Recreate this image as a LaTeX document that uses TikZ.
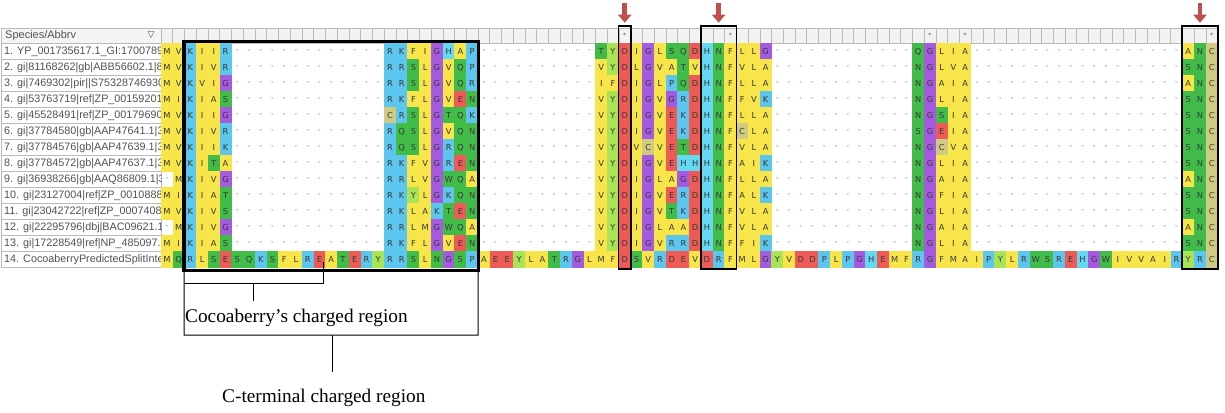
\documentclass[tikz,border=0pt]{standalone}
\usepackage{fontspec}
\setmainfont{Liberation Serif}
\newfontfamily\labfont{Liberation Sans}
\newfontfamily\resfont{DejaVu Sans}
\usetikzlibrary{arrows.meta}

% residue colours
\definecolor{hyd}{HTML}{F7E54A}
\definecolor{pos}{HTML}{5CC6EE}
\definecolor{his}{HTML}{64D9F0}
\definecolor{gly}{HTML}{A55BE0}
\definecolor{pol}{HTML}{42BC48}
\definecolor{neg}{HTML}{EE5A55}
\definecolor{tyr}{HTML}{A8E455}
\definecolor{cys}{HTML}{CFCB82}
\definecolor{arrowred}{HTML}{C0504D}
\colorlet{resA}{hyd}\colorlet{resI}{hyd}\colorlet{resL}{hyd}
\colorlet{resM}{hyd}\colorlet{resV}{hyd}\colorlet{resF}{hyd}
\colorlet{resK}{pos}\colorlet{resR}{pos}\colorlet{resP}{pos}
\colorlet{resH}{his}\colorlet{resG}{gly}
\colorlet{resS}{pol}\colorlet{resT}{pol}\colorlet{resN}{pol}
\colorlet{resQ}{pol}\colorlet{resW}{pol}
\colorlet{resD}{neg}\colorlet{resE}{neg}
\colorlet{resY}{tyr}\colorlet{resC}{cys}

% one alignment row: #1 = row, #2 = one character per column
\makeatletter
\newcommand\seqline[2]{%
  \def\seqcol{0}%
  \@tfor\seqres:=#2\do{%
    \pgfmathtruncatemacro\seqcol{\seqcol+1}%
    \if-\seqres
      \node[gapcell] (r#1c\seqcol) at ({161+(\seqcol-0.5)*11.74},{43.5+(#1-0.5)*16}) {-};%
    \else
      \node[res, fill=res\seqres] (r#1c\seqcol) at ({161+(\seqcol-0.5)*11.74},{43.5+(#1-0.5)*16}) {\seqres};%
    \fi}}
\makeatother
% homologues share the same gaps
\newcommand\homolog[6]{\seqline{#1}{#2-------------#3----------#4------------#5------------------#6}}

\begin{document}
\begin{tikzpicture}[
  x=1pt, y=-1pt,
  res/.style={minimum width=11.9pt, minimum height=16.1pt, inner sep=0pt, font=\resfont\fontsize{8.3}{9}\selectfont, text=black!78},
  gapcell/.style={minimum width=11.74pt, minimum height=16pt, inner sep=0pt, font=\resfont\fontsize{7.5}{8}\selectfont, text=black!55},
  rulecell/.style={draw=gray!55, fill=gray!10, line width=0.5pt, minimum width=11.74pt, minimum height=15pt, inner sep=0pt},
  labcell/.style={draw=gray!55, line width=0.5pt, minimum width=160pt, minimum height=16pt, inner sep=0pt},
  labtext/.style={anchor=west, inner sep=0pt, font=\labfont\fontsize{10.8}{12}\selectfont, text=black!68},
  starmark/.style={inner sep=0pt, font=\resfont\fontsize{6}{6}\selectfont, text=black!70},
  sitebox/.style={draw, line width=1.6pt},
  bigbox/.style={draw, line width=3.5pt},
  markarrow/.style={-{Triangle[width=13pt,length=8pt]}, line width=4.5pt, draw=arrowred, shorten >=5pt},
  bracket/.style={draw, line width=1pt},
  note/.style={anchor=west, inner sep=0pt, font=\fontsize{19.3}{22}\selectfont},
]
\fill[white] (0,0) rectangle (1225,412);
\useasboundingbox (0,0) rectangle (1225,412);

% ---- header ----
\node[labcell, fill=gray!8, minimum height=15pt] (hdrcell) at (81,35.5) {};
\node[labtext, font=\labfont\fontsize{11}{12}\selectfont] (hdr) at (5,35.5) {Species/Abbrv};
\node[inner sep=0pt, font=\resfont\fontsize{9}{9}\selectfont, text=black!70] (sorttri) at (151,35.5) {▽};
\foreach \c in {1,...,90}
  \node[rulecell] (rul\c) at ({161+(\c-0.5)*11.74},35.5) {};
\foreach \c in {40,49,66,69,90}
  \node[starmark] (star\c) at (rul\c) {*};

% ---- sequence names ----
\foreach \i in {1,...,14}
  \node[labcell] (cell\i) at (81,{43.5+(\i-0.5)*16}) {};
\begin{scope}
\clip (1,43.5) rectangle (161,267.5);
\foreach \i/\t in {1/{1. YP\_001735617.1\_GI:1700789}, 2/{2. gi|81168262|gb|ABB56602.1|8},
  3/{3. gi|7469302|pir||S75328746930}, 4/{4. gi|53763719|ref|ZP\_00159201},
  5/{5. gi|45528491|ref|ZP\_00179690}, 6/{6. gi|37784580|gb|AAP47641.1|3},
  7/{7. gi|37784576|gb|AAP47639.1|3}, 8/{8. gi|37784572|gb|AAP47637.1|3},
  9/{9. gi|36938266|gb|AAQ86809.1|3}, 10/{10. gi|23127004|ref|ZP\_0010888},
  11/{11. gi|23042722|ref|ZP\_0007408}, 12/{12. gi|22295796|dbj|BAC09621.1},
  13/{13. gi|17228549|ref|NP\_485097.1}, 14/{14. CocoaberryPredictedSplitInte}}
  \node[labtext] (lab\i) at (4,{43.5+(\i-0.5)*16}) {\t};
\end{scope}

% ---- alignment ----
\homolog{1}{MVKIIR}{RKFIGHAP}{TYDIGLSQDHNFLLG}{QGLIA}{ANC}
\homolog{2}{MVKIVR}{RRSLGVQP}{VYDLGVATVHNFVLA}{NGLVA}{SNC}
\homolog{3}{MVKVIG}{RRSLGVQR}{IFDIGLPQDHNFLLA}{NGAIA}{ANC}
\homolog{4}{MIKIAS}{RKFLGVEN}{VYDIGVGRDHNFFVK}{NGLIA}{SNC}
\homolog{5}{MVKIIG}{CRSLGTQK}{VYDIGVEKDHNFLLA}{NGSIA}{SNC}
\homolog{6}{MVKIVR}{RQSLGVQN}{VYDIGVEKDHNFCLA}{SGEIA}{SNC}
\homolog{7}{MVKIIK}{RQSLGRQN}{VYDVCVETDHNFVLA}{NGCVA}{SNC}
\homolog{8}{MVKITA}{RKFVGREN}{VYDIGVEHHHNFAIK}{NGLIA}{SNC}
\homolog{9}{-MKIVG}{RRLVGWQA}{VYDIGLAGDHNFLLA}{NGAIA}{ANC}
\homolog{10}{MIKIAT}{RKYLGKQN}{VYDIGVERDHNFALK}{NGFIA}{SNC}
\homolog{11}{MVKIVS}{RKLAKTEN}{VYDIGVTKDHNFVLA}{NGLIA}{SNC}
\homolog{12}{-MKIVG}{RRLMGWQA}{VYDIGLAADHNFVLA}{NGAIA}{ANC}
\homolog{13}{MIKIAS}{RKFLGVEN}{VYDIGVRRDHNFFIK}{NGLIA}{SNC}
\seqline{14}{MQRLSESQKSFLREATERYRRSLNGSPAEEYLATRGLMFDSVRDEVDRFMLGYVDDPLPGHEMFRGFMAIPYLRWSREHGWIVVAIRYRC}

% ---- highlighted sites ----
\draw[bigbox] ([yshift=1.5pt]r1c3.north west) rectangle ([yshift=-2.5pt]r14c27.south east);
\draw[sitebox] ([yshift=2pt]rul40.north west) rectangle ([yshift=-1.5pt]r14c40.south east);
\draw[sitebox] ([yshift=2pt]rul47.north west) rectangle ([yshift=-1.5pt]r14c49.south east);
\draw[sitebox, line width=2.2pt] ([yshift=2pt]rul88.north west) rectangle ([yshift=-1.5pt]r14c90.south east);
\foreach \c in {40,48,89} {
  \coordinate (mark\c) at ([yshift=25pt]rul\c.north);
  \draw[markarrow] (mark\c) -- (rul\c.north);
}

% ---- charged regions ----
\coordinate (cocoaTop) at (323,262);
\coordinate (cocoaR) at (323,283);
\coordinate (cocoaL) at (184,283);
\coordinate (cocoaStem) at (253,283);
\coordinate (cocoaEnd) at (253,301);
\draw[bracket] (cocoaTop) -- (cocoaR) -- (cocoaL);
\draw[bracket] (cocoaStem) -- (cocoaEnd);
\node[note] (cocoa) at (185,318) {Cocoaberry's charged region};

\coordinate (ctermBL) at (184,335);
\coordinate (ctermBR) at (478,335);
\coordinate (ctermStem) at (332,335);
\coordinate (ctermEnd) at (332,372);
\draw[bracket] (r14c3.south west) -- (ctermBL) -- (ctermBR) -- (r14c27.south east);
\draw[bracket] (ctermStem) -- (ctermEnd);
\node[note] (cterm) at (222,398) {C-terminal charged region};

\end{tikzpicture}
\end{document}
